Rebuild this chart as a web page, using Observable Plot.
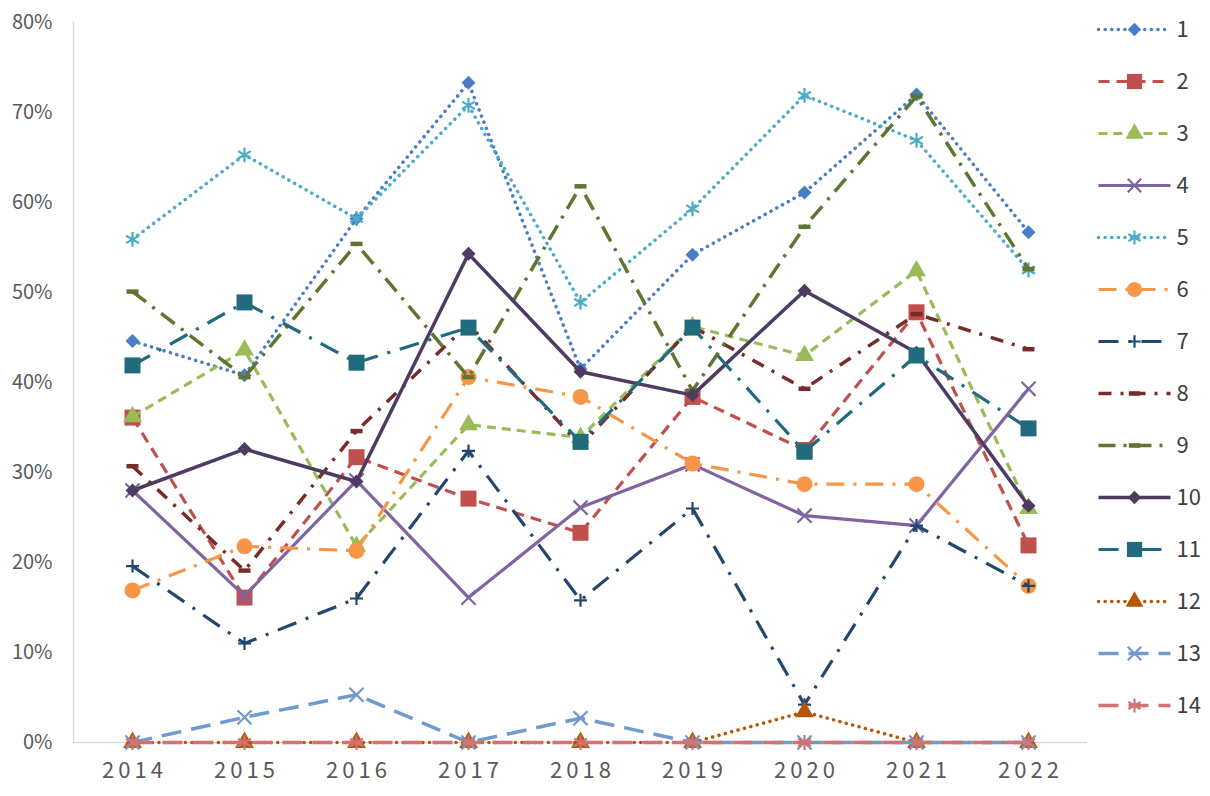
<!DOCTYPE html>
<html><head><meta charset="utf-8">
<script src="https://cdn.jsdelivr.net/npm/d3@7"></script>
<script src="https://cdn.jsdelivr.net/npm/@observablehq/plot@0.6"></script>
<style>
body{margin:0;background:#fff;}
#wrap{position:relative;width:1210px;height:796px;overflow:hidden;}
#chart{position:absolute;left:0;top:0;}
#legend{position:absolute;left:1088px;top:0;}
svg text{font-family:"Noto Sans CJK JP","Noto Sans",sans-serif;}
g[aria-label="x-axis tick label"] text{letter-spacing:4px;}
</style></head><body>
<div id="wrap"><div id="chart"></div><div id="legend"></div></div>
<script>
const years = ["2014","2015","2016","2017","2018","2019","2020","2021","2022"];
const seriesNames = ["1","2","3","4","5","6","7","8","9","10","11","12","13","14"];
const yTicks = [0,0.1,0.2,0.3,0.4,0.5,0.6,0.7,0.8];

// values in percent, per series, 2014..2022
const s1  = [44.6, 40.8, 58.2, 73.3, 41.5, 54.2, 61.1, 72.0, 56.7];
const s2  = [36.1, 16.1, 31.7, 27.1, 23.3, 38.4, 32.5, 47.8, 21.9];
const s3  = [36.2, 43.6, 21.8, 35.3, 33.9, 46.2, 43.0, 52.4, 26.0];
const s4  = [28.0, 16.3, 29.1, 16.1, 26.1, 30.9, 25.2, 24.1, 39.3];
const s5  = [55.9, 65.3, 58.2, 70.8, 48.9, 59.3, 71.9, 66.9, 52.5];
const s6  = [16.9, 21.8, 21.3, 40.6, 38.4, 31.0, 28.7, 28.7, 17.4];
const s7  = [19.6, 11.0, 16.0, 32.4, 15.8, 26.0, 4.2, 24.1, 17.4];
const s8  = [30.7, 19.1, 34.6, 46.5, 33.0, 46.2, 39.3, 47.6, 43.7];
const s9  = [50.1, 40.6, 55.4, 40.6, 61.8, 39.1, 57.3, 71.8, 52.6];
const s10 = [28.0, 32.6, 29.0, 54.3, 41.2, 38.6, 50.2, 43.3, 26.3];
const s11 = [41.9, 48.9, 42.2, 46.1, 33.4, 46.1, 32.3, 43.0, 34.9];
const s12 = [0, 0, 0, 0, 0, 0, 3.4, 0, 0];
const s13 = [0, 2.8, 5.3, 0, 2.7, 0, 0, 0, 0];
const s14 = [0, 0, 0, 0, 0, 0, 0, 0, 0];
const seriesValues = [s1,s2,s3,s4,s5,s6,s7,s8,s9,s10,s11,s12,s13,s14];

const colors = ["#4A7EC4","#C0504D","#9BBB59","#8064A2","#4BACC6","#F79646","#23466F",
                "#772C2A","#5F7530","#4D3B62","#216B7E","#B65708","#729ACA","#D07371"];

// custom symbols (size = pi*r^2)
const diamondSym = {draw(ctx, size){const r=Math.sqrt(size/Math.PI);ctx.moveTo(0,-r);ctx.lineTo(r,0);ctx.lineTo(0,r);ctx.lineTo(-r,0);ctx.closePath();}};
const squareSym = {draw(ctx, size){const r=Math.sqrt(size/Math.PI);ctx.rect(-r,-r,2*r,2*r);}};
const dashSym = {draw(ctx, size){const r=Math.sqrt(size/Math.PI);ctx.moveTo(-r,0);ctx.lineTo(r,0);}};
const plusSym = {draw(ctx, size){const r=Math.sqrt(size/Math.PI);ctx.moveTo(-r,0);ctx.lineTo(r,0);ctx.moveTo(0,-r);ctx.lineTo(0,r);}};

// style per series: [dasharray, linecap, width, symbol, r, filled]
const styles = [
  ["0.1 6.5","round",3.5, diamondSym, 7, true],
  ["11 7","butt",3.2, squareSym, 8, true],
  ["9 6","butt",3.2, "triangle", 7, true],
  [null,"butt",3.2, "times", 6.5, false],
  ["0.1 6.5","round",3.5, "asterisk", 7, false],
  ["18 9 3 9","butt",3.2, "circle", 8, true],
  ["20 10 3 10","butt",3.2, plusSym, 6.5, false],
  ["13 9 3 9","butt",3.5, dashSym, 6, false],
  ["17 8 3 8","butt",3.5, dashSym, 6, false],
  [null,"butt",3.5, diamondSym, 7, true],
  ["20 10 3 10","butt",3.2, squareSym, 8, true],
  ["0.1 6.5","round",3.5, "triangle", 7, true],
  ["20 10","butt",3.5, "times", 6.5, false],
  ["20 10","butt",3.5, "asterisk", 7, false]
];

const marks = [
  Plot.ruleY([0], {stroke:"#d9d9d9", strokeWidth:1.3}),
  Plot.frame({anchor:"left", stroke:"#d9d9d9", strokeWidth:1.3}),
  Plot.axisY(yTicks, {tickSize:0, tickPadding:21, tickFormat:d=>Math.round(d*100)+"%", fontSize:20, fill:"#595959", label:null}),
  Plot.axisX({tickSize:0, tickPadding:20, fontSize:22, fill:"#595959", dx:2, label:null})
];

seriesNames.forEach((name, i) => {
  const rows = years.map((y, j) => ({year:y, value:seriesValues[i][j]/100}));
  const [dash, cap, w, sym, r, filled] = styles[i];
  marks.push(Plot.line(rows, {x:"year", y:"value", stroke:colors[i], strokeWidth:w,
    strokeDasharray:dash ?? undefined, strokeLinecap:cap, strokeLinejoin:"round"}));
  marks.push(Plot.dot(rows, {x:"year", y:"value", symbol:sym, r:r,
    fill: filled ? colors[i] : "none", stroke: filled ? "none" : colors[i],
    strokeWidth: (sym===dashSym) ? 4.5 : 2.2}));
});

const chart = Plot.plot({
  width:1088, height:784,
  marginLeft:73, marginRight:1, marginTop:22, marginBottom:42,
  x:{type:"point", domain:years, padding:0.5, axis:null, label:null},
  y:{domain:[0,0.8], axis:null, label:null},
  marks
});
document.getElementById("chart").append(chart);

// legend
const legendX = [0, 1];
const lmarks = [];
seriesNames.forEach((name, i) => {
  const [dash, cap, w, sym, r, filled] = styles[i];
  lmarks.push(Plot.line(legendX, {x:d=>d, y:()=>name, stroke:colors[i], strokeWidth:w,
    strokeDasharray:dash ?? undefined, strokeLinecap:cap}));
  lmarks.push(Plot.dot([0.5], {x:d=>d, y:()=>name, symbol:sym, r:r*0.95,
    fill: filled ? colors[i] : "none", stroke: filled ? "none" : colors[i],
    strokeWidth: (sym===dashSym) ? 4.5 : 2.2}));
  lmarks.push(Plot.text([1], {x:d=>d, y:()=>name, text:()=>name, textAnchor:"start", dx:6,
    fontSize:22, fill:"#404040"}));
});
const legend = Plot.plot({
  width:122, height:796, margin:0,
  x:{domain:[0,1], range:[10,82], axis:null},
  y:{type:"point", domain:seriesNames, range:[25,708], padding:0, axis:null},
  marks: lmarks
});
document.getElementById("legend").append(legend);
</script>
</body></html>
